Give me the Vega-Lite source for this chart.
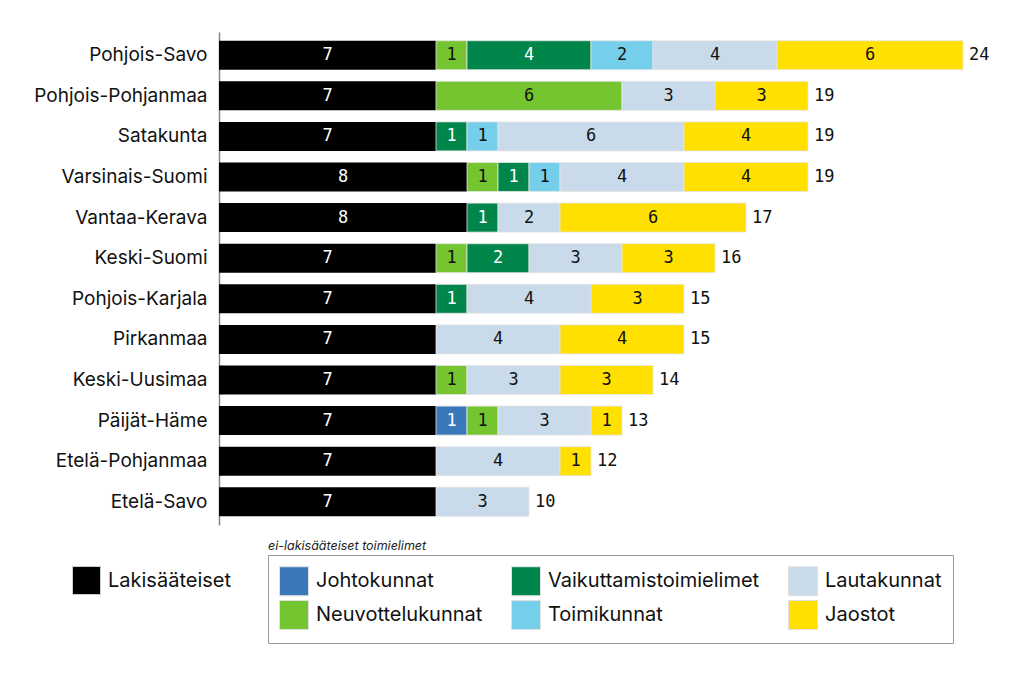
{
  "$schema": "https://vega.github.io/schema/vega-lite/v6.json",
  "autosize": "none",
  "width": 775,
  "height": 493,
  "padding": {"left": 219, "top": 32, "right": 30, "bottom": 153},
  "background": "white",
  "config": {
    "view": {"stroke": null},
    "font": "Inter"
  },
  "title": {
    "text": "ei-lakisääteiset toimielimet",
    "orient": "bottom",
    "anchor": "start",
    "frame": "group",
    "dx": 49,
    "dy": -116,
    "offset": 12,
    "fontSize": 12.5,
    "fontStyle": "italic",
    "fontWeight": "normal",
    "font": "Inter",
    "color": "#222"
  },
  "data": {
    "values": [
      {"region": "Pohjois-Savo", "category": "Lakisääteiset", "value": 7},
      {"region": "Pohjois-Savo", "category": "Neuvottelukunnat", "value": 1},
      {"region": "Pohjois-Savo", "category": "Vaikuttamistoimielimet", "value": 4},
      {"region": "Pohjois-Savo", "category": "Toimikunnat", "value": 2},
      {"region": "Pohjois-Savo", "category": "Lautakunnat", "value": 4},
      {"region": "Pohjois-Savo", "category": "Jaostot", "value": 6},
      {"region": "Pohjois-Pohjanmaa", "category": "Lakisääteiset", "value": 7},
      {"region": "Pohjois-Pohjanmaa", "category": "Neuvottelukunnat", "value": 6},
      {"region": "Pohjois-Pohjanmaa", "category": "Lautakunnat", "value": 3},
      {"region": "Pohjois-Pohjanmaa", "category": "Jaostot", "value": 3},
      {"region": "Satakunta", "category": "Lakisääteiset", "value": 7},
      {"region": "Satakunta", "category": "Vaikuttamistoimielimet", "value": 1},
      {"region": "Satakunta", "category": "Toimikunnat", "value": 1},
      {"region": "Satakunta", "category": "Lautakunnat", "value": 6},
      {"region": "Satakunta", "category": "Jaostot", "value": 4},
      {"region": "Varsinais-Suomi", "category": "Lakisääteiset", "value": 8},
      {"region": "Varsinais-Suomi", "category": "Neuvottelukunnat", "value": 1},
      {"region": "Varsinais-Suomi", "category": "Vaikuttamistoimielimet", "value": 1},
      {"region": "Varsinais-Suomi", "category": "Toimikunnat", "value": 1},
      {"region": "Varsinais-Suomi", "category": "Lautakunnat", "value": 4},
      {"region": "Varsinais-Suomi", "category": "Jaostot", "value": 4},
      {"region": "Vantaa-Kerava", "category": "Lakisääteiset", "value": 8},
      {"region": "Vantaa-Kerava", "category": "Vaikuttamistoimielimet", "value": 1},
      {"region": "Vantaa-Kerava", "category": "Lautakunnat", "value": 2},
      {"region": "Vantaa-Kerava", "category": "Jaostot", "value": 6},
      {"region": "Keski-Suomi", "category": "Lakisääteiset", "value": 7},
      {"region": "Keski-Suomi", "category": "Neuvottelukunnat", "value": 1},
      {"region": "Keski-Suomi", "category": "Vaikuttamistoimielimet", "value": 2},
      {"region": "Keski-Suomi", "category": "Lautakunnat", "value": 3},
      {"region": "Keski-Suomi", "category": "Jaostot", "value": 3},
      {"region": "Pohjois-Karjala", "category": "Lakisääteiset", "value": 7},
      {"region": "Pohjois-Karjala", "category": "Vaikuttamistoimielimet", "value": 1},
      {"region": "Pohjois-Karjala", "category": "Lautakunnat", "value": 4},
      {"region": "Pohjois-Karjala", "category": "Jaostot", "value": 3},
      {"region": "Pirkanmaa", "category": "Lakisääteiset", "value": 7},
      {"region": "Pirkanmaa", "category": "Lautakunnat", "value": 4},
      {"region": "Pirkanmaa", "category": "Jaostot", "value": 4},
      {"region": "Keski-Uusimaa", "category": "Lakisääteiset", "value": 7},
      {"region": "Keski-Uusimaa", "category": "Neuvottelukunnat", "value": 1},
      {"region": "Keski-Uusimaa", "category": "Lautakunnat", "value": 3},
      {"region": "Keski-Uusimaa", "category": "Jaostot", "value": 3},
      {"region": "Päijät-Häme", "category": "Lakisääteiset", "value": 7},
      {"region": "Päijät-Häme", "category": "Johtokunnat", "value": 1},
      {"region": "Päijät-Häme", "category": "Neuvottelukunnat", "value": 1},
      {"region": "Päijät-Häme", "category": "Lautakunnat", "value": 3},
      {"region": "Päijät-Häme", "category": "Jaostot", "value": 1},
      {"region": "Etelä-Pohjanmaa", "category": "Lakisääteiset", "value": 7},
      {"region": "Etelä-Pohjanmaa", "category": "Lautakunnat", "value": 4},
      {"region": "Etelä-Pohjanmaa", "category": "Jaostot", "value": 1},
      {"region": "Etelä-Savo", "category": "Lakisääteiset", "value": 7},
      {"region": "Etelä-Savo", "category": "Lautakunnat", "value": 3}
    ]
  },
  "transform": [
    {"stack": "value", "groupby": ["region"], "as": ["x0", "x1"]}
  ],
  "encoding": {
    "y": {
      "field": "region",
      "type": "nominal",
      "sort": ["Pohjois-Savo", "Pohjois-Pohjanmaa", "Satakunta", "Varsinais-Suomi", "Vantaa-Kerava", "Keski-Suomi", "Pohjois-Karjala", "Pirkanmaa", "Keski-Uusimaa", "Päijät-Häme", "Etelä-Pohjanmaa", "Etelä-Savo"],
      "scale": {"paddingInner": 0.286, "paddingOuter": 0.215},
      "axis": {
        "title": null,
        "ticks": false,
        "labelFontSize": 19,
        "labelColor": "#111",
        "labelPadding": 12,
        "labelFont": "Inter",
        "domainColor": "#888",
        "domainWidth": 1.5
      }
    }
  },
  "layer": [
    {
      "transform": [{"filter": "datum.category === 'Lakisääteiset'"}],
      "mark": {"type": "bar"},
      "encoding": {
        "x": {"field": "x0", "type": "quantitative", "scale": {"domain": [0, 25], "nice": false}, "axis": null},
        "x2": {"field": "x1"},
        "fill": {
          "field": "category",
          "type": "nominal",
          "scale": {"domain": ["Lakisääteiset"], "range": ["#000000"]},
          "legend": {
            "orient": "none",
            "legendX": -147,
            "legendY": 534,
            "title": null,
            "padding": 0,
            "symbolType": "square",
            "symbolSize": 784,
            "symbolStrokeColor": "#cccccc",
            "symbolStrokeWidth": 1,
            "symbolOpacity": 1,
            "labelFontSize": 20,
            "labelFont": "Inter",
            "labelColor": "#111",
            "labelOffset": 7
          }
        }
      }
    },
    {
      "transform": [{"filter": "datum.category !== 'Lakisääteiset'"}],
      "mark": {"type": "bar", "stroke": "#e4e4e4", "strokeWidth": 0.8},
      "encoding": {
        "x": {"field": "x0", "type": "quantitative"},
        "x2": {"field": "x1"},
        "color": {
          "field": "category",
          "type": "nominal",
          "scale": {
            "domain": ["Johtokunnat", "Neuvottelukunnat", "Vaikuttamistoimielimet", "Toimikunnat", "Lautakunnat", "Jaostot"],
            "range": ["#3a78b9", "#74c52f", "#00854a", "#75cfea", "#c9daeb", "#ffe000"]
          },
          "legend": {
            "orient": "none",
            "legendX": 49,
            "legendY": 523,
            "title": null,
            "values": ["Johtokunnat", "Vaikuttamistoimielimet", "Lautakunnat", "Neuvottelukunnat", "Toimikunnat", "Jaostot"],
            "columns": 3,
            "direction": "horizontal",
            "padding": 11,
            "strokeColor": "#999999",
            "fillColor": "white",
            "columnPadding": 26,
            "rowPadding": 0,
            "symbolType": "square",
            "symbolSize": 841,
            "symbolStrokeColor": "#e0e0e0",
            "symbolStrokeWidth": 1,
            "symbolOpacity": 1,
            "labelFontSize": 20,
            "labelFont": "Inter",
            "labelColor": "#111",
            "labelOffset": 7,
            "labelLimit": 300
          }
        }
      }
    },
    {
      "transform": [{"calculate": "(datum.x0 + datum.x1) / 2", "as": "xm"}],
      "mark": {"type": "text", "font": "DejaVu Sans Mono", "fontSize": 17, "baseline": "middle", "align": "center"},
      "encoding": {
        "x": {"field": "xm", "type": "quantitative"},
        "text": {"field": "value", "type": "quantitative"},
        "color": {
          "condition": {"test": "datum.category === 'Lakisääteiset' || datum.category === 'Vaikuttamistoimielimet' || datum.category === 'Johtokunnat'", "value": "#ffffff"},
          "value": "#111111"
        }
      }
    },
    {
      "transform": [{"aggregate": [{"op": "max", "field": "x1", "as": "total"}], "groupby": ["region"]}],
      "mark": {"type": "text", "font": "DejaVu Sans Mono", "fontSize": 17, "baseline": "middle", "align": "left", "dx": 6, "color": "#111"},
      "encoding": {
        "x": {"field": "total", "type": "quantitative"},
        "text": {"field": "total", "type": "quantitative"}
      }
    }
  ]
}
